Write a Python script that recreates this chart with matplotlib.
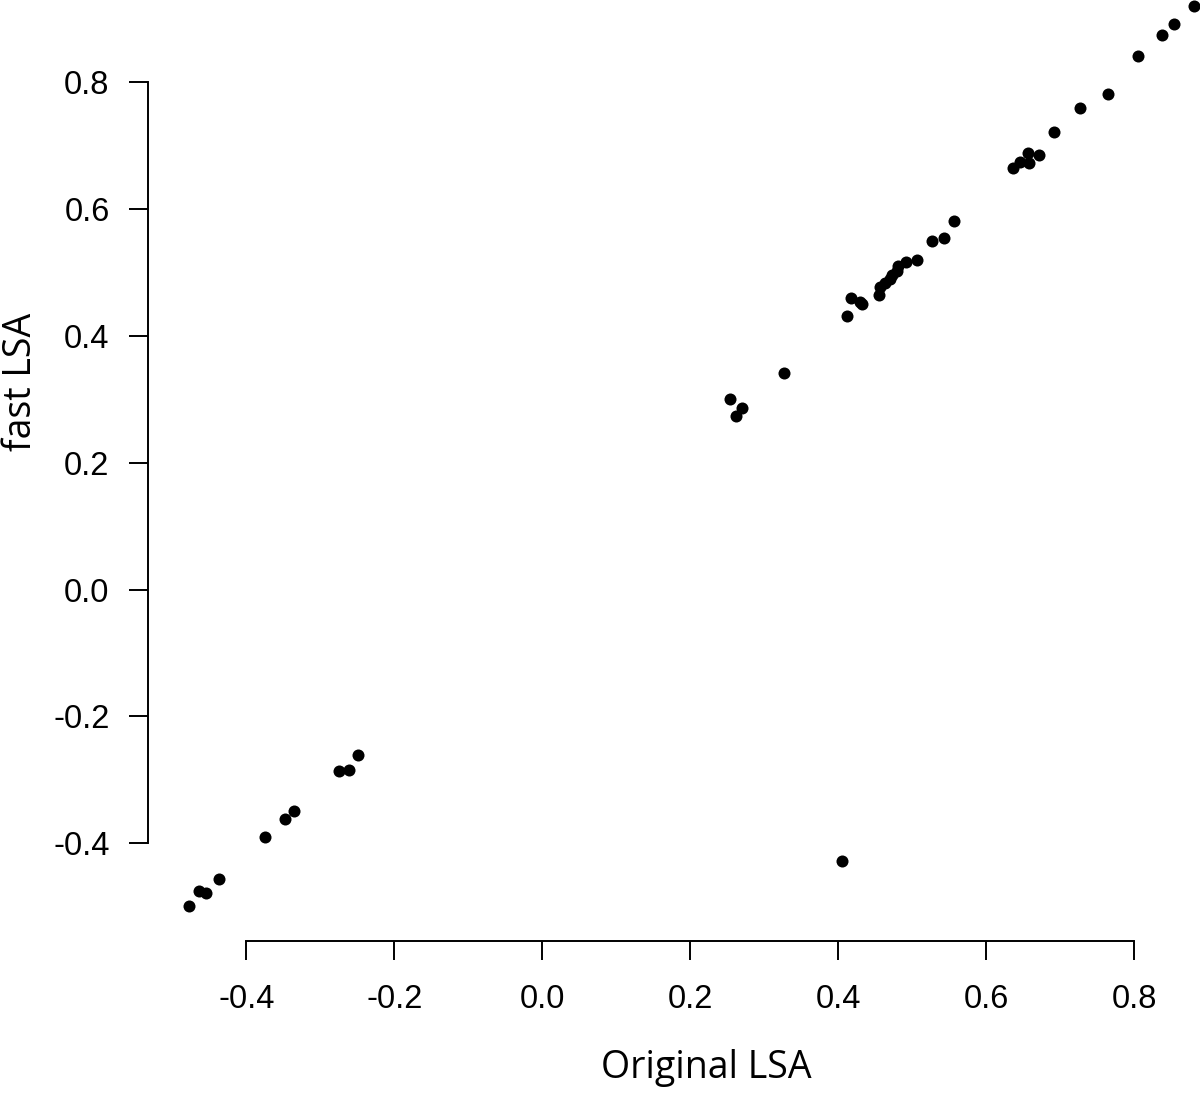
import numpy as np
import matplotlib
matplotlib.use("Agg")
import matplotlib.pyplot as plt

# values (original LSA vs fast LSA)
orig_lsa = [0.880, 0.853, 0.838, 0.805, 0.765, 0.727, 0.692, 0.671, 0.657, 0.658,
            0.645, 0.636, 0.557, 0.543, 0.526, 0.507, 0.492, 0.481, 0.479, 0.472,
            0.470, 0.463, 0.456, 0.455, 0.432, 0.429, 0.417, 0.412, 0.326, 0.254,
            0.270, 0.262, 0.405, -0.249, -0.261, -0.275, -0.336, -0.347, -0.375,
            -0.437, -0.455, -0.464, -0.477]
fast_lsa = [0.920, 0.892, 0.875, 0.841, 0.782, 0.759, 0.722, 0.686, 0.688, 0.672,
            0.675, 0.665, 0.582, 0.555, 0.550, 0.519, 0.516, 0.510, 0.503, 0.496,
            0.490, 0.484, 0.477, 0.464, 0.450, 0.453, 0.460, 0.432, 0.341, 0.301,
            0.286, 0.274, -0.428, -0.261, -0.285, -0.286, -0.349, -0.362, -0.391,
            -0.456, -0.478, -0.475, -0.499]
ticks = [-0.4, -0.2, 0.0, 0.2, 0.4, 0.6, 0.8]
tick_labels = ["-0.4", "-0.2", "0.0", "0.2", "0.4", "0.6", "0.8"]

W, H = 1200, 1095
fig = plt.figure(figsize=(W / 100, H / 100), dpi=100)

# plot region runs past the right and top edge, like the cropped original
left, right, bottom, top = 148, 1232, 941, -31
ax = fig.add_axes([left / W, (H - bottom) / H, (right - left) / W, (bottom - top) / H])
ax.patch.set_visible(False)

ax.scatter(orig_lsa, fast_lsa, s=75, color="black", linewidths=0, clip_on=False)

ax.set_xlim(-0.5328, 0.9320)
ax.set_ylim(-0.5544, 0.9787)

for side in ["top", "right"]:
    ax.spines[side].set_visible(False)
ax.spines["left"].set_bounds(-0.4, 0.8)
ax.spines["bottom"].set_bounds(-0.4, 0.8)
for side in ["left", "bottom"]:
    ax.spines[side].set_linewidth(1.4)

ax.set_xticks(ticks)
ax.set_xticklabels(tick_labels)
ax.set_yticks(ticks)
ax.set_yticklabels(tick_labels)
ax.tick_params(axis="both", direction="out", length=13.7, width=1.4,
               labelsize=23.5, labelfontfamily="Liberation Sans")
ax.tick_params(axis="x", pad=17)
ax.tick_params(axis="y", pad=14)

fig.text(706 / W, 1 - 1078 / H, "Original LSA", family="Open Sans", fontsize=27,
         ha="center", va="baseline")
fig.text(21 / W, 1 - 382 / H, "fast LSA", family="Open Sans", fontsize=27,
         ha="center", va="center", rotation=90)

fig.savefig("out.png", dpi=100)
